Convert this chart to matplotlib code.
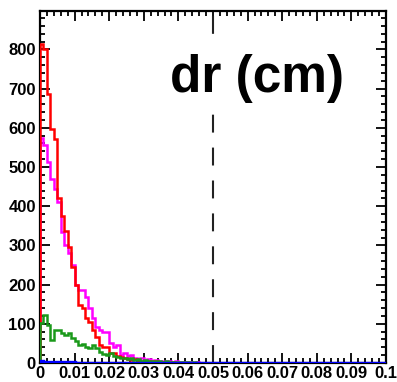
import matplotlib.pyplot as plt
import numpy as np

plt.rcParams['font.family'] = ['Liberation Sans', 'DejaVu Sans']
plt.rcParams['font.weight'] = 'bold'

# bin width 0.001 cm, counts
red = [815, 800, 685, 597, 572, 420, 376, 338, 296, 245,
       198, 148, 140, 115, 105, 84, 67, 45, 40, 40,
       25, 25, 18, 15, 12, 10, 8, 9, 6, 5,
       5, 4, 3, 4, 2, 2, 3, 1, 2, 1,
       1, 1, 0, 1, 0, 1, 0, 0, 0, 0]
magenta = [575, 555, 512, 470, 445, 410, 335, 300, 280, 250,
           200, 186, 186, 169, 140, 115, 92, 84, 79, 79,
           51, 41, 45, 20, 25, 18, 20, 12, 10, 12,
           8, 10, 6, 8, 5, 6, 4, 5, 3, 4,
           2, 3, 2, 2, 1, 2, 1, 1, 0, 1]
green = [102, 122, 97, 58, 84, 84, 76, 72, 76, 65,
         55, 45, 48, 40, 38, 45, 38, 28, 22, 20,
         25, 18, 15, 12, 14, 10, 12, 8, 10, 6,
         8, 5, 6, 4, 5, 3, 4, 2, 3, 2,
         3, 2, 2, 1, 2, 1, 1, 1, 0, 0]
blue = [4, 3, 3, 2, 3, 2, 2, 2, 1, 2, 1, 1, 1, 1, 1, 0, 1, 0, 1, 0,
        0, 0, 0, 0, 0, 0, 0, 0, 0, 0, 0, 0, 0, 0, 0, 0, 0, 0, 0, 0,
        0, 0, 0, 0, 0, 0, 0, 0, 0, 0, 0, 0, 0, 0, 0, 0, 0, 0, 0, 0,
        0, 0, 0, 0, 0, 0, 0, 0, 0, 0, 0, 0, 0, 0, 0, 0, 0, 0, 0, 0,
        0, 0, 0, 0, 0, 0, 0, 0, 0, 0, 0, 0, 0, 0, 0, 0, 0, 0, 0, 0]
bin_width = 0.001
cut = 0.05
xticks = [0, 0.01, 0.02, 0.03, 0.04, 0.05, 0.06, 0.07, 0.08, 0.09, 0.1]
yticks = [0, 100, 200, 300, 400, 500, 600, 700, 800]

fig = plt.figure(figsize=(3.97, 3.82), dpi=100)
ax = fig.add_axes([40 / 397, 19 / 382, 346 / 397, 352 / 382])

def edges(n):
    return np.arange(n + 1) * bin_width

ax.stairs(magenta, edges(len(magenta)), color='#ff00ff', lw=1.8, zorder=3)
ax.stairs(red, edges(len(red)), color='#ff0000', lw=1.8, zorder=3)
ax.stairs(green, edges(len(green)), color='#1a991a', lw=1.8, zorder=3)
ax.stairs(blue, edges(len(blue)), color='#0000ff', lw=2.4, zorder=4)

ax.axvline(cut, color='#222222', lw=1.5, dashes=(8.6, 7.2), zorder=2)

ax.text(0.0377, 691, 'dr (cm)', fontsize=37, fontweight='bold', ha='left',
        va='baseline', zorder=5,
        bbox=dict(facecolor='white', edgecolor='none', pad=7))

ax.set_xlim(0, 0.1)
ax.set_ylim(0, 898)
ax.set_xticks(xticks)
ax.set_xticklabels([f"{v:g}" for v in xticks])
ax.set_xticks(np.arange(0, 0.1001, 0.002), minor=True)
ax.set_yticks(yticks)
ax.set_yticks(np.arange(0, 898, 20), minor=True)

ax.tick_params(which='both', direction='in', top=True, right=True, width=1.3)
ax.tick_params(which='major', length=7)
ax.tick_params(which='minor', length=3.5)
ax.tick_params(axis='x', pad=2, labelsize=12)
ax.tick_params(axis='y', pad=3, labelsize=12)
for lab in ax.get_xticklabels() + ax.get_yticklabels():
    lab.set_fontweight('bold')
for s in ax.spines.values():
    s.set_linewidth(1.6)

fig.savefig('out.png', dpi=100)
